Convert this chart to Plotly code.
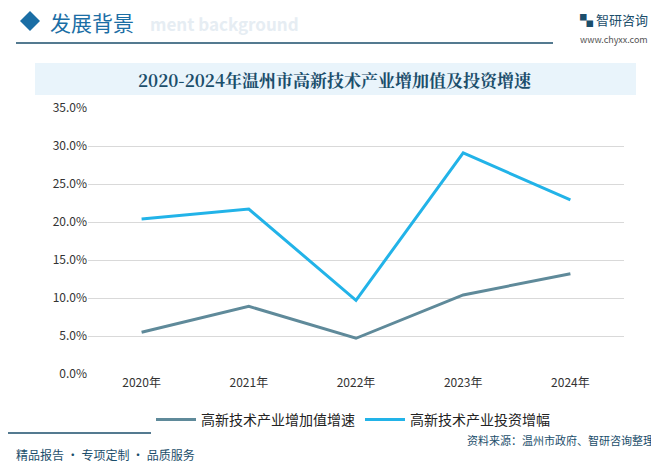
import plotly.graph_objects as go

years = ["2020年", "2021年", "2022年", "2023年", "2024年"]
added_value_growth = [5.5, 8.9, 4.7, 10.4, 13.2]
investment_growth = [20.4, 21.7, 9.7, 29.1, 22.9]
y_ticks = [0, 5, 10, 15, 20, 25, 30, 35]

FONT = "Noto Sans CJK SC"
L, R, T, B = 80, 43, 100, 103
W, H = 659, 469
DY = 7  # rendered offset correction


def px(x):
    return (x - L) / (W - L - R)


def py(y):
    return (H - B - (y - DY)) / (H - T - B)


fig = go.Figure()
fig.add_trace(go.Scatter(x=years, y=added_value_growth, mode="lines", name="高新技术产业增加值增速",
                         line=dict(color="#5f8a9a", width=3)))
fig.add_trace(go.Scatter(x=years, y=investment_growth, mode="lines", name="高新技术产业投资增幅",
                         line=dict(color="#22b3e8", width=3)))

fig.update_layout(
    width=W, height=H, margin=dict(l=L, r=R, t=T, b=B),
    paper_bgcolor="white", plot_bgcolor="white",
    font=dict(family=FONT, size=12, color="#333"),
    showlegend=True,
    legend=dict(orientation="h", x=px(345), xanchor="center", y=py(403), yanchor="top",
                font=dict(size=14, color="#222"), itemwidth=40),
    xaxis=dict(range=[-0.5, 4.5], showgrid=False, showline=False, ticks="", tickfont=dict(size=12)),
    yaxis=dict(range=[0, 35], tickvals=y_ticks, ticktext=[f"{v:.1f}%" for v in y_ticks],
               gridcolor="#d9d9d9", zeroline=False, tickfont=dict(size=12)),
)

# header
fig.add_shape(type="path", xref="paper", yref="paper",
              path=f"M {px(22)} {py(10)} L {px(32)} {py(20)} L {px(22)} {py(30)} L {px(12)} {py(20)} Z",
              fillcolor="#1b6ea5", line=dict(width=0))
fig.add_annotation(xref="paper", yref="paper", x=px(40), y=py(21), xanchor="left", yanchor="middle",
                   text="发展背景", showarrow=False, font=dict(size=21, color="#1b6ea5"))
fig.add_annotation(x=px(140), y=py(22), xref="paper", yref="paper", xanchor="left", yanchor="middle",
                   text="<b>ment background</b>", showarrow=False, font=dict(size=17, color="#e6edf3"))
fig.add_shape(type="line", x0=px(8), x1=px(545), y0=py(42), y1=py(42), xref="paper", yref="paper",
              line=dict(color="#1b4e6b", width=1.5))
fig.add_annotation(x=px(642), y=py(18), xref="paper", yref="paper", xanchor="right", yanchor="middle",
                   text="▚ 智研咨询", showarrow=False, font=dict(size=13, color="#1b4e6b"))
fig.add_annotation(x=px(642), y=py(38), xref="paper", yref="paper", xanchor="right", yanchor="middle",
                   text="www.chyxx.com", showarrow=False, font=dict(size=9, color="#555"))

# title band
fig.add_shape(type="rect", x0=px(27), x1=px(628), y0=py(62), y1=py(94), xref="paper", yref="paper",
              fillcolor="#e9f4fb", line=dict(width=0), layer="below")
fig.add_annotation(x=px(327), y=py(78), xref="paper", yref="paper", yanchor="middle",
                   text="<b>2020-2024年温州市高新技术产业增加值及投资增速</b>",
                   showarrow=False, font=dict(size=17, color="#1b4e6b", family="Noto Serif CJK SC, " + FONT))

# footer
fig.add_shape(type="line", x0=px(0), x1=px(405), y0=py(432), y1=py(432), xref="paper", yref="paper",
              line=dict(color="#1b4e6b", width=1.5))
fig.add_annotation(x=px(648), y=py(439), xref="paper", yref="paper", xanchor="right", yanchor="middle",
                   text="资料来源：温州市政府、智研咨询整理", showarrow=False, font=dict(size=11, color="#1b4e6b"))
fig.add_annotation(x=px(6), y=py(453), xref="paper", yref="paper", xanchor="left", yanchor="middle",
                   text="精品报告 · 专项定制 · 品质服务", showarrow=False, font=dict(size=12, color="#1b4e6b"))

fig.write_html("out.html")
